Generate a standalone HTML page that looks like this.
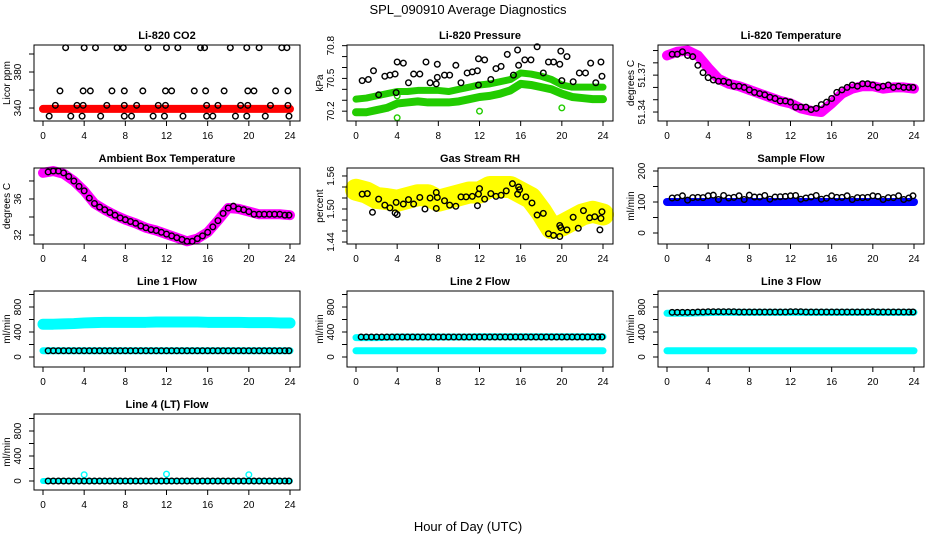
<!DOCTYPE html>
<html><head><meta charset="utf-8"><style>
html,body{margin:0;padding:0;background:#fff;}
svg{display:block;font-family:"Liberation Sans",Arial,sans-serif;}
</style></head><body>
<svg id="chart" width="936" height="540" viewBox="0 0 936 540" xmlns="http://www.w3.org/2000/svg">
<text x="468" y="14" text-anchor="middle" font-size="13">SPL_090910  Average Diagnostics</text>
<text x="468" y="531" text-anchor="middle" font-size="13">Hour of Day (UTC)</text>
</svg>
<script>
// ---- data ----
const hourly=[0,1,2,3,4,5,6,7,8,9,10,11,12,13,14,15,16,17,18,19,20,21,22,23,24];
const halfHours=[0.5,1,1.5,2,2.5,3,3.5,4,4.5,5,5.5,6,6.5,7,7.5,8,8.5,9,9.5,10,10.5,11,11.5,12,12.5,13,13.5,14,14.5,15,15.5,16,16.5,17,17.5,18,18.5,19,19.5,20,20.5,21,21.5,22,22.5,23,23.5,23.9];
const xTicks=[0,4,8,12,16,20,24];

const co2Band=[339,339,339,339,339,339,339,339,339,339,339,339,339,339,339,339,339,339,339,339,339,339,339,339,339];
const co2Hours=[2.2,4.0,5.1,7.2,7.8,10.2,12.0,13.1,15.3,15.7,18.2,19.8,21.0,23.2,23.7,
 1.65,3.9,4.6,6.7,7.9,9.7,11.9,12.5,14.7,15.8,17.6,19.9,20.5,22.6,23.8,
 1.2,3.3,3.9,6.2,7.9,9.1,11.2,11.9,15.9,17.0,19.2,19.9,22.1,23.8,
 0.6,2.7,3.8,5.6,7.9,8.6,10.7,11.8,13.6,15.9,16.5,18.7,19.8,21.6,23.9];
const co2Vals=[407,407,407,407,407,407,407,407,407,407,407,407,407,407,407,
 359,359,359,359,359,359,359,359,359,359,359,359,359,359,359,
 343,343,343,343,343,343,343,343,343,343,343,343,343,343,
 331,331,331,331,331,331,331,331,331,331,331,331,331,331,331];

const presUpper=[70.31,70.32,70.34,70.36,70.38,70.38,70.39,70.39,70.39,70.38,70.40,70.42,70.44,70.45,70.47,70.49,70.55,70.54,70.52,70.49,70.44,70.42,70.42,70.42,70.42];
const presLower=[70.19,70.19,70.21,70.23,70.27,70.28,70.29,70.28,70.28,70.28,70.29,70.31,70.33,70.34,70.36,70.39,70.45,70.44,70.42,70.40,70.36,70.33,70.32,70.31,70.31];
const presGreenHours=[4.0,12.0,20.0,4.0];
const presGreenVals=[70.14,70.20,70.23,70.34];
const presHours=[0.6,1.2,1.7,2.2,2.8,3.3,3.8,3.9,4.0,4.6,5.1,5.6,6.2,6.8,7.2,7.8,7.9,7.9,8.6,9.1,9.7,10.2,10.8,11.3,11.8,11.9,11.9,12.5,13.1,13.6,14.1,14.7,15.3,15.7,15.8,16.4,17.0,17.6,18.2,18.7,19.2,19.8,19.9,20.0,20.5,21.1,21.7,22.3,22.8,23.3,23.8,23.9];
const presVals=[70.48,70.49,70.57,70.35,70.52,70.53,70.54,70.37,70.65,70.64,70.46,70.54,70.54,70.65,70.46,70.45,70.51,70.63,70.53,70.53,70.62,70.46,70.55,70.56,70.57,70.44,70.68,70.67,70.49,70.59,70.61,70.72,70.53,70.76,70.62,70.67,70.67,70.79,70.55,70.65,70.65,70.63,70.75,70.48,70.70,70.47,70.55,70.55,70.64,70.46,70.65,70.52];

const tempBand=[51.386,51.389,51.390,51.386,51.376,51.367,51.363,51.361,51.358,51.355,51.352,51.349,51.347,51.343,51.341,51.340,51.347,51.355,51.359,51.361,51.361,51.359,51.360,51.360,51.359];
const tempVals=[51.387,51.387,51.389,51.386,51.385,51.378,51.372,51.368,51.366,51.365,51.365,51.364,51.361,51.361,51.360,51.358,51.356,51.355,51.354,51.352,51.351,51.349,51.349,51.348,51.344,51.344,51.344,51.342,51.343,51.346,51.348,51.351,51.356,51.358,51.360,51.362,51.361,51.363,51.363,51.362,51.360,51.361,51.362,51.360,51.361,51.360,51.360,51.360];

const ambBand=[38.9,39.1,38.8,38.0,36.9,35.5,34.8,34.2,33.7,33.3,32.8,32.5,32.1,31.7,31.3,31.6,32.3,33.6,35.0,34.9,34.6,34.3,34.3,34.3,34.2];
const ambVals=[39.0,39.1,39.1,38.9,38.5,38.0,37.4,36.9,36.1,35.5,35.1,34.8,34.5,34.2,33.9,33.7,33.5,33.3,33.0,32.8,32.6,32.5,32.3,32.1,31.9,31.7,31.5,31.3,31.3,31.6,31.9,32.3,32.9,33.6,34.4,35.0,35.2,34.9,34.8,34.6,34.3,34.3,34.3,34.3,34.3,34.3,34.2,34.2];

const rhBand=[1.535,1.530,1.520,1.518,1.515,1.520,1.525,1.525,1.515,1.520,1.525,1.530,1.530,1.540,1.540,1.540,1.530,1.520,1.495,1.465,1.470,1.480,1.490,1.495,1.490];
const rhHours=[0.6,1.1,1.6,2.2,2.8,3.3,3.8,3.9,4.0,4.6,5.1,5.6,6.2,6.7,7.2,7.8,7.9,7.8,8.6,9.1,9.7,10.2,10.7,11.3,11.8,11.9,12.0,12.5,13.1,13.6,14.1,14.6,15.2,15.7,15.8,15.9,16.5,17.1,17.6,18.2,18.7,19.2,19.8,19.8,19.9,20.5,21.1,21.6,22.1,22.7,23.2,23.7,23.8,23.9];
const rhVals=[1.527,1.528,1.494,1.518,1.507,1.502,1.493,1.512,1.490,1.509,1.517,1.509,1.521,1.500,1.520,1.530,1.521,1.501,1.515,1.507,1.505,1.522,1.522,1.523,1.506,1.527,1.537,1.518,1.528,1.523,1.525,1.533,1.546,1.527,1.540,1.535,1.522,1.511,1.489,1.492,1.455,1.452,1.450,1.470,1.466,1.462,1.485,1.465,1.497,1.484,1.486,1.462,1.483,1.495];

const sampleBand=[100,100,100,100,100,100,100,100,100,100,100,100,100,100,100,100,100,100,100,100,100,100,100,100,100];
const sampleVals=[113,114,120,106,114,115,114,120,122,108,121,113,115,120,108,122,116,116,121,109,116,117,118,120,121,109,113,116,121,109,112,120,115,115,120,108,114,114,115,120,118,108,114,114,120,108,113,120];

const line1Upper=[525,525,530,535,545,550,555,555,555,555,555,560,560,560,560,560,555,555,555,555,550,550,550,545,545];
const line1Lower=[100,100,100,100,100,100,100,100,100,100,100,100,100,100,100,100,100,100,100,100,100,100,100,100,100];
const line1Vals=[100,100,100,100,100,100,100,100,100,100,100,100,100,100,100,100,100,100,100,100,100,100,100,100,100,100,100,100,100,100,100,100,100,100,100,100,100,100,100,100,100,100,100,100,100,100,100,100];

const line2Upper=[310,310,310,315,320,320,320,320,320,320,320,320,325,325,325,325,325,325,325,325,325,325,325,325,325];
const line2Lower=[100,100,100,100,100,100,100,100,100,100,100,100,100,100,100,100,100,100,100,100,100,100,100,100,100];
const line2Vals=[320,320,320,320,320,320,320,320,320,320,320,320,320,320,320,320,320,320,320,320,320,320,320,320,320,320,320,320,320,320,320,320,320,320,320,320,320,320,320,320,320,320,320,320,320,320,320,320];

const line3Upper=[700,700,700,705,710,715,715,715,715,715,715,715,715,715,715,715,715,715,715,715,715,715,715,715,715];
const line3Lower=[100,100,100,100,100,100,100,100,100,100,100,100,100,100,100,100,100,100,100,100,100,100,100,100,100];
const line3Vals=[715,715,715,715,715,720,720,725,725,725,725,725,725,720,720,720,720,720,720,720,720,720,720,725,725,725,720,720,720,720,720,720,720,720,720,720,720,720,720,725,720,720,720,720,720,720,720,720];

const line4Band=[0,0,0,0,0,0,0,0,0,0,0,0,0,0,0,0,0,0,0,0,0,0,0,0,0];
const line4OutHours=[4.0,12.0,20.0];
const line4OutVals=[100,110,100];
const line4Vals=[0,0,0,0,0,0,0,0,0,0,0,0,0,0,0,0,0,0,0,0,0,0,0,0,0,0,0,0,0,0,0,0,0,0,0,0,0,0,0,0,0,0,0,0,0,0,0,0];

// ---- drawing ----
const NS='http://www.w3.org/2000/svg';
const svg=document.getElementById('chart');
const colL=[34,347,658], colR=[300,613,924], rowT=[45,168,291,414], H=76;
function el(tag,parent){const e=document.createElementNS(NS,tag);parent.appendChild(e);return e;}

function addPanel(id,col,row,title,ylab,ymin,ymax,yt,yl){
  const L=colL[col],R=colR[col],T=rowT[row],B=T+H;
  const g=el('g',svg);
  
  
  const sx=h=>L+9+(R-L-19)*h/24;
  const sy=v=>B-(v-ymin)/(ymax-ymin)*H;
  const marks=el('g',g);
  
  
  const fr=el('rect',g);
  
  
  fr.setAttribute('x',L);fr.setAttribute('y',T);fr.setAttribute('width',R-L);fr.setAttribute('height',H);
  fr.setAttribute('fill','none');fr.setAttribute('stroke','#000');fr.setAttribute('stroke-width','1');
  const t=el('text',g);
  
  
  t.setAttribute('x',(L+R)/2);t.setAttribute('y',T-6);t.setAttribute('text-anchor','middle');
  t.setAttribute('font-size','11');t.setAttribute('font-weight','bold');t.textContent=title;
  xTicks.forEach(h=>{
    const ln=el('line',g);
    
    
    ln.setAttribute('x1',sx(h));ln.setAttribute('x2',sx(h));ln.setAttribute('y1',B);ln.setAttribute('y2',B+5);ln.setAttribute('stroke','#000');
    const tx=el('text',g);
    
    
    tx.setAttribute('x',sx(h));tx.setAttribute('y',B+18);tx.setAttribute('text-anchor','middle');tx.setAttribute('font-size','10');tx.textContent=h;
  });
  yt.forEach(v=>{
    const ln=el('line',g);
    
    
    ln.setAttribute('x1',L-5);ln.setAttribute('x2',L);ln.setAttribute('y1',sy(v));ln.setAttribute('y2',sy(v));ln.setAttribute('stroke','#000');
  });
  yl.forEach(v=>{
    const tx=el('text',g);
    
    
    const x=L-13,y=sy(v);
    tx.setAttribute('x',x);tx.setAttribute('y',y);tx.setAttribute('text-anchor','middle');tx.setAttribute('font-size','10');
    tx.setAttribute('transform','rotate(-90 '+x+' '+y+')');tx.textContent=v;
  });
  const yla=el('text',g);
  
  
  const lx=L-24,ly=T+H/2;
  yla.setAttribute('x',lx);yla.setAttribute('y',ly);yla.setAttribute('text-anchor','middle');yla.setAttribute('font-size','10');
  yla.setAttribute('transform','rotate(-90 '+lx+' '+ly+')');yla.textContent=ylab;
  return {g:marks,sx,sy};
}
function band(p,hours,vals,color,w,name){
  const pl=el('polyline',p.g);
  
  
  pl.setAttribute('points',hours.map((h,i)=>p.sx(h)+','+p.sy(vals[i])).join(' '));
  pl.setAttribute('fill','none');pl.setAttribute('stroke',color);pl.setAttribute('stroke-width',w);
  pl.setAttribute('stroke-linecap','round');pl.setAttribute('stroke-linejoin','round');
}
function pts(p,hours,vals,color,name,r,sw){
  hours.forEach((h,i)=>{
    const c=el('circle',p.g);
    
    
    c.setAttribute('cx',p.sx(h));c.setAttribute('cy',p.sy(vals[i]));c.setAttribute('r',r||2.8);
    c.setAttribute('fill','none');c.setAttribute('stroke',color);c.setAttribute('stroke-width',sw||1.4);
  });
}
const flowT=[0,200,400,600,800,1000], flowL=[0,400,800];

let p=addPanel('co2',0,0,'Li-820 CO2','Licor ppm',325.6,410,[340,360,380,400],[340,380]);
band(p,hourly,co2Band,'#ff0000',8,'co2-band');
pts(p,co2Hours,co2Vals,'#000','co2-point');

p=addPanel('pressure',1,0,'Li-820 Pressure','kPa',70.11,70.806,[70.2,70.3,70.4,70.5,70.6,70.7,70.8],[70.2,70.5,70.8]);
band(p,hourly,presUpper,'#22cc00',7,'pressure-upper-band');
band(p,hourly,presLower,'#22cc00',8,'pressure-lower-band');
pts(p,presGreenHours,presGreenVals,'#22cc00','pressure-green-point');
pts(p,presHours,presVals,'#000','pressure-point');

p=addPanel('li820-temp',2,0,'Li-820 Temperature','degrees C',51.3327,51.3945,[51.34,51.35,51.36,51.37,51.38,51.39],[51.34,51.37]);
band(p,hourly,tempBand,'#ff00ff',10,'li820-temp-band');
pts(p,halfHours,tempVals,'#000','li820-temp-point');

p=addPanel('ambient-temp',0,1,'Ambient Box Temperature','degrees C',31,39.44,[32,34,36,38],[32,36]);
band(p,hourly,ambBand,'#ff00ff',10,'ambient-temp-band');
pts(p,halfHours,ambVals,'#000','ambient-temp-point');

p=addPanel('rh',1,1,'Gas Stream RH','percent',1.4364,1.5745,[1.44,1.46,1.48,1.50,1.52,1.54,1.56],['1.44','1.50','1.56']);
band(p,hourly,rhBand,'#ffff00',22,'rh-band');
pts(p,hourly,rhBand,'#ffff00','rh-yellow-point',3.5,1.4);
pts(p,rhHours,rhVals,'#000','rh-point');

p=addPanel('sample-flow',2,1,'Sample Flow','ml/min',-35.5,209.7,[0,50,100,150,200],[0,100,200]);
band(p,hourly,sampleBand,'#0000ff',8,'sample-flow-band');
pts(p,halfHours,sampleVals,'#000','sample-flow-point');

p=addPanel('line1',0,2,'Line 1 Flow','ml/min',-160,1056,flowT,flowL);
band(p,hourly,line1Upper,'#00ffff',11,'line1-upper-band');
band(p,hourly,line1Lower,'#00ffff',7,'line1-lower-band');
pts(p,halfHours,line1Vals,'#000','line1-point');

p=addPanel('line2',1,2,'Line 2 Flow','ml/min',-160,1056,flowT,flowL);
band(p,hourly,line2Upper,'#00ffff',7,'line2-upper-band');
band(p,hourly,line2Lower,'#00ffff',7,'line2-lower-band');
pts(p,halfHours,line2Vals,'#000','line2-point');

p=addPanel('line3',2,2,'Line 3 Flow','ml/min',-160,1056,flowT,flowL);
band(p,hourly,line3Upper,'#00ffff',7,'line3-upper-band');
band(p,hourly,line3Lower,'#00ffff',7,'line3-lower-band');
pts(p,halfHours,line3Vals,'#000','line3-point');

p=addPanel('line4',0,3,'Line 4 (LT) Flow','ml/min',-144,1072,flowT,flowL);
band(p,hourly,line4Band,'#00ffff',6,'line4-band');
pts(p,line4OutHours,line4OutVals,'#00ffff','line4-outlier');
pts(p,halfHours,line4Vals,'#000','line4-point');
</script>
</body></html>
